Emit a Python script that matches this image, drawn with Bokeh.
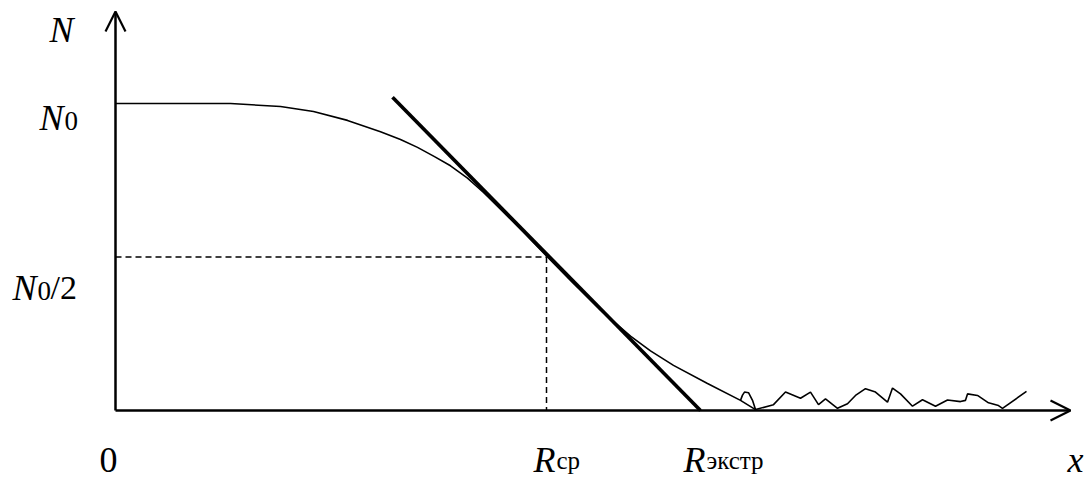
from bokeh.plotting import figure
from bokeh.models import Range1d, Arrow, OpenHead, Label
from bokeh.embed import file_html
from bokeh.resources import INLINE

# ---- data (x in arbitrary units, N in units of N0) ----
curve_x = [0.0, 0.65, 1.15, 1.65, 1.98, 2.32, 2.65, 2.85, 3.02, 3.19, 3.35, 3.52, 3.68,
           3.85, 4.08, 4.30, 4.55, 4.85, 5.15, 5.35, 5.58, 5.92, 6.25, 6.40]
curve_n = [1.0, 1.0, 1.0, 0.990, 0.974, 0.945, 0.908, 0.883, 0.857, 0.827, 0.797, 0.757,
           0.710, 0.656, 0.581, 0.507, 0.424, 0.327, 0.242, 0.194, 0.147, 0.088, 0.033, 0.003]

noise_x = [6.25, 6.27, 6.29, 6.33, 6.37, 6.40, 6.58, 6.70, 6.85, 6.95, 7.03, 7.10, 7.22,
           7.32, 7.40, 7.50, 7.60, 7.72, 7.77, 7.85, 7.97, 8.07, 8.20, 8.32, 8.45, 8.50,
           8.52, 8.62, 8.73, 8.83, 8.87, 9.11]
noise_n = [0.033, 0.050, 0.060, 0.058, 0.033, 0.003, 0.019, 0.060, 0.040, 0.060, 0.019,
           0.038, 0.007, 0.022, 0.049, 0.071, 0.060, 0.027, 0.073, 0.054, 0.014, 0.035,
           0.014, 0.034, 0.029, 0.033, 0.054, 0.049, 0.025, 0.016, 0.007, 0.062]

tangent_x = [2.77, 5.85]
tangent_n = [1.02, 0.0]

N0 = 1.0
R_cp = 4.31
x_axis_end = 9.55
y_axis_end = 1.30

FONT = "Liberation Serif"
W, H = 1092, 481

p = figure(width=W, height=H, output_backend="svg", toolbar_location=None,
           x_range=Range1d(-1.15, 9.77), y_range=Range1d(-0.2313, 1.3355),
           min_border=0, min_border_left=0, min_border_right=0,
           min_border_top=0, min_border_bottom=0)
p.axis.visible = False
p.grid.visible = False
p.outline_line_color = None
p.background_fill_color = "white"

# axes with arrows
p.add_layout(Arrow(end=OpenHead(size=20, line_width=2.2, line_color="black"),
                   x_start=0, y_start=0, x_end=0, y_end=y_axis_end,
                   line_width=2.5, line_color="black"))
p.add_layout(Arrow(end=OpenHead(size=20, line_width=2.2, line_color="black"),
                   x_start=0, y_start=0, x_end=x_axis_end, y_end=0,
                   line_width=2.5, line_color="black"))

# dashed guide lines
p.line([0, R_cp], [N0 / 2, N0 / 2], line_dash="6 4", line_width=1.5, line_color="black")
p.line([R_cp, R_cp], [N0 / 2, 0], line_dash="6 4", line_width=1.5, line_color="black")

# curve, noise tail and tangent
p.line(curve_x, curve_n, line_width=1.6, line_color="black")
p.line(noise_x, noise_n, line_width=1.6, line_color="black")
p.line(tangent_x, tangent_n, line_width=3.6, line_color="black")

MAIN = "36px"
SUB = "25px"
SUBD = "27px"
SHIFT = 13  # renderer places the alphabetic baseline slightly lower


def lab(text, px, py, size=MAIN, italic=False):
    p.add_layout(Label(x=px, y=H - py + SHIFT, x_units="screen", y_units="screen",
                       text=text, text_font=FONT, text_font_size=size,
                       text_font_style="italic" if italic else "normal",
                       text_color="black", text_align="left",
                       text_baseline="alphabetic"))


lab("N", 49, 42, italic=True)
lab("N", 39, 130, italic=True)
lab("0", 64, 133, size=SUBD)
lab("N", 12, 300, italic=True)
lab("0", 37, 303, size=SUBD)
lab("/2", 50, 300, size="34px")
lab("0", 99, 472)
lab("R", 533, 472, italic=True)
lab("ср", 556, 473, size=SUB)
lab("R", 683, 472, italic=True)
lab("экстр", 706, 473, size=SUB)
lab("x", 1067, 472, italic=True)

open("out.html", "w").write(file_html(p, INLINE))
